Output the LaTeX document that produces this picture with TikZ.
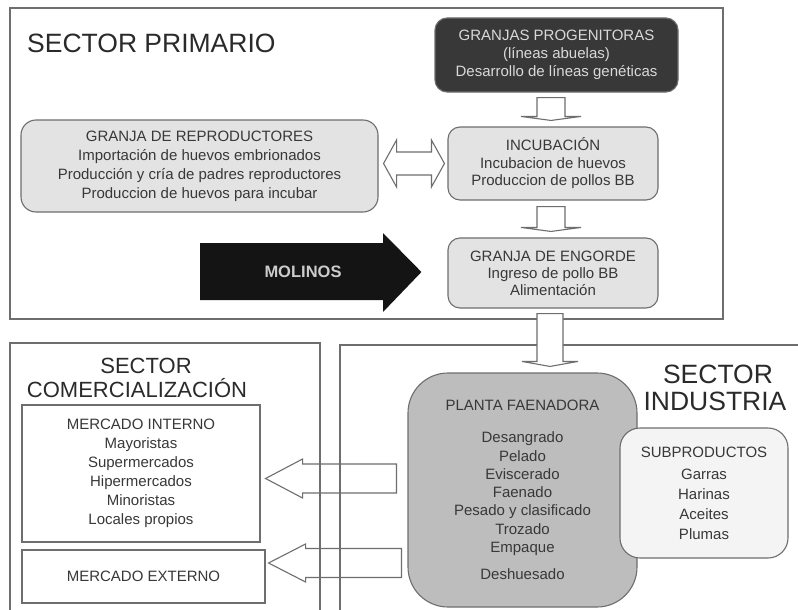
\documentclass[tikz,border=0pt]{standalone}
\usepackage{fontspec}
\setmainfont{Liberation Sans}
\usetikzlibrary{calc}
\definecolor{framec}{HTML}{6E6E6E}
\definecolor{lightbox}{HTML}{E3E3E3}
\definecolor{darkboxc}{HTML}{383838}
\definecolor{midbox}{HTML}{BDBDBD}
\definecolor{palebox}{HTML}{F4F4F4}
\definecolor{txt}{HTML}{383838}
\definecolor{titlec}{HTML}{2A2A2A}

\tikzset{
  sectorline/.style={draw=framec, line width=1.2pt},
  boxbase/.style={draw=framec, line width=1.1pt, align=center, text=txt, inner sep=0pt},
  lbox/.style={boxbase, fill=lightbox, rounded corners=12pt},
  dbox/.style={boxbase, fill=darkboxc, rounded corners=12pt, text=white!85!black},
  pbox/.style={boxbase, fill=white},
  plantabox/.style={boxbase, fill=midbox, rounded corners=40pt},
  subbox/.style={boxbase, fill=palebox, rounded corners=20pt},
  hollow/.style={draw=framec, line width=1.1pt, fill=white, line join=miter},
  hollowopen/.style={draw=framec, line width=1.1pt, line join=miter},
  titletext/.style={text=titlec, inner sep=0pt},
}
\newcommand\fs[2]{\fontsize{#1}{#2}\selectfont}
% #1 x, #2 from, #3 to, #4 gap top, #5 gap bottom, #6 half shaft, #7 half head, #8 head length
\newcommand\blkdown[8]{%
  \draw[hollow] let \p1=(#2), \p2=(#3) in
    (#1-#6,\y1-#4) -- (#1-#6,\y2+#5+#8) -- (#1-#7,\y2+#5+#8) -- (#1,\y2+#5)
    -- (#1+#7,\y2+#5+#8) -- (#1+#6,\y2+#5+#8) -- (#1+#6,\y1-#4) -- cycle;}
% #1 from, #2 to, #3 y, #4 gap right, #5 gap tip, #6 half shaft, #7 half head, #8 head length
\newcommand\blkleft[8]{%
  \draw[hollowopen] let \p1=(#1), \p2=(#2) in
    (\x1-#4,#3+#6) -- (\x2+#5+#8,#3+#6) -- (\x2+#5+#8,#3+#7) -- (\x2+#5,#3)
    -- (\x2+#5+#8,#3-#7) -- (\x2+#5+#8,#3-#6) -- (\x1-#4,#3-#6) -- cycle;}

\begin{document}
\begin{tikzpicture}[x=1pt,y=-1pt]
\useasboundingbox (0,0) rectangle (798,610);
\fill[white] (0,0) rectangle (798,610);
\clip (0,0) rectangle (798,610);

% sector frames
\draw[sectorline] (10,8) rectangle (723,319);
\draw[sectorline] (10,615) -- (10,343) -- (320,343) -- (320,615);
\draw[sectorline] (340,615) -- (340,345) -- (805,345);

% titles
\node[titletext, anchor=base west, font=\fs{26.5}{30}] (tprim) at (27,53) {SECTOR PRIMARIO};
\node[titletext, anchor=base, font=\fs{22}{25}] (tcom1) at (146,373) {SECTOR};
\node[titletext, anchor=base, font=\fs{22}{25}] (tcom2) at (137,397) {COMERCIALIZACIÓN};
\node[titletext, anchor=base, font=\fs{26.5}{30}] (tind1) at (718,383) {SECTOR};
\node[titletext, anchor=base, font=\fs{26.5}{30}] (tind2) at (715,410) {INDUSTRIA};

% primary sector boxes
\node[dbox, minimum width=243, minimum height=74, font=\fs{15}{18}] (prog) at (556.5,55)
  {GRANJAS PROGENITORAS\\(líneas abuelas)\\Desarrollo de líneas genéticas};
\node[lbox, minimum width=210, minimum height=73, font=\fs{15}{17.5}] (incub) at (553,163.5)
  {INCUBACIÓN\\Incubacion de huevos\\Produccion de pollos BB};
\node[lbox, minimum width=210, minimum height=70, font=\fs{15}{17}] (engorde) at (553,273)
  {GRANJA DE ENGORDE\\Ingreso de pollo BB\\Alimentación};
\node[lbox, rounded corners=15pt, minimum width=357, minimum height=92, font=\fs{15}{19}] (repro) at (199.5,166)
  {GRANJA DE REPRODUCTORES\\Importación de huevos embrionados\\Producción y cría de padres reproductores\\Produccion de huevos para incubar};

% commercial sector boxes
\node[pbox, minimum width=238, minimum height=137, font=\fs{15}{19}] (mint) at (141,473.5)
  {MERCADO INTERNO\\Mayoristas\\Supermercados\\Hipermercados\\Minoristas\\Locales propios};
\node[pbox, minimum width=243, minimum height=53, font=\fs{15}{18}] (mext) at (143.5,576.5)
  {MERCADO EXTERNO};

% industry boxes
\node[plantabox, minimum width=229, minimum height=234, font=\fs{15}{18.3}] (planta) at (522.5,490)
  {PLANTA FAENADORA\\[14pt]Desangrado\\Pelado\\Eviscerado\\Faenado\\Pesado y clasificado\\Trozado\\Empaque\\[9pt]Deshuesado};
\node[subbox, minimum width=168, minimum height=130, font=\fs{15}{19.7}] (subp) at (704,493)
  {SUBPRODUCTOS\\[3pt]Garras\\Harinas\\Aceites\\Plumas};

% block arrows
\blkdown{551pt}{prog.south}{incub.north}{5pt}{6pt}{14pt}{30pt}{4pt}
\blkdown{551pt}{incub.south}{engorde.north}{6pt}{6pt}{14pt}{30pt}{4pt}
\blkdown{550pt}{engorde.south}{planta.north}{5pt}{6pt}{13pt}{28pt}{5pt}

\draw[hollow] let \p1=(repro.east), \p2=(incub.west) in
  (\x1+5pt,-163.5pt) -- (\x1+18pt,-140pt) -- (\x1+18pt,-152pt) -- (\x2-16pt,-152pt)
  -- (\x2-16pt,-140pt) -- (\x2-3pt,-163.5pt) -- (\x2-16pt,-187pt) -- (\x2-16pt,-175pt)
  -- (\x1+18pt,-175pt) -- (\x1+18pt,-187pt) -- cycle;

\blkleft{planta.west}{mint.east}{-478.5pt}{11pt}{5pt}{14.5pt}{19.5pt}{37pt}
\blkleft{planta.west}{mext.east}{-563pt}{6pt}{3pt}{14.5pt}{19pt}{37pt}

% MOLINOS arrow
\fill[black!92] let \p2=(engorde.west) in
  (200pt,-243pt) -- (383pt,-243pt) -- (383pt,-233pt) -- (\x2-26pt,-272pt)
  -- (383pt,-312pt) -- (383pt,-300pt) -- (200pt,-300pt) -- cycle;
\node[text=white!80!black, font=\fs{16.5}{19}\bfseries, inner sep=0pt] (molinos) at (303,272) {MOLINOS};
\end{tikzpicture}
\end{document}
